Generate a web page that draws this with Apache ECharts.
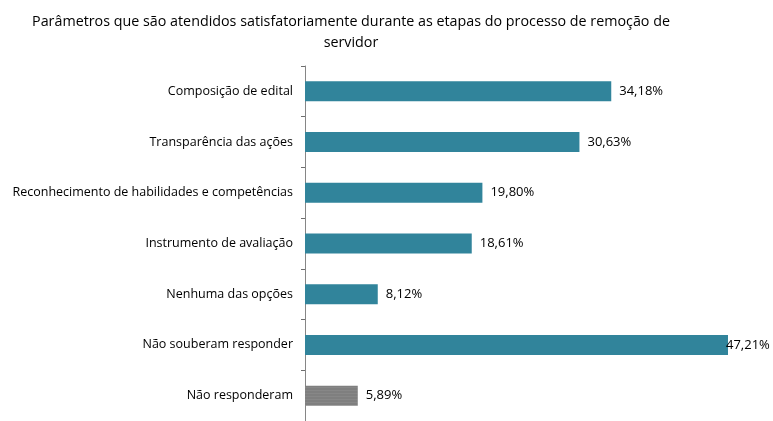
<!DOCTYPE html>
<html>
<head>
<meta charset="utf-8">
<script src="https://cdn.jsdelivr.net/npm/echarts@6/dist/echarts.min.js"></script>
<style>
  html, body { margin: 0; padding: 0; background: #fff; }
  #main { width: 773px; height: 421px; }
</style>
</head>
<body>
<div id="main"></div>
<script>
// categorias e valores (%)
var categorias = [
  'Composição de edital',
  'Transparência das ações',
  'Reconhecimento de habilidades e competências',
  'Instrumento de avaliação',
  'Nenhuma das opções',
  'Não souberam responder',
  'Não responderam'
];
var valores = [34.18, 30.63, 19.80, 18.61, 8.12, 47.21, 5.89];
var corBarra = '#31849b';
var corCinza = '#7f7f7f';

var fonte = '"Open Sans", "Noto Sans", sans-serif';

var dados = [];
for (var i = 0; i < valores.length; i++) {
  var item = { value: valores[i] };
  if (i == valores.length - 1) {
    // última barra cinza com textura
    item.itemStyle = {
      color: corCinza,
      decal: { symbol: 'rect', symbolSize: 0.6, dashArrayX: [1, 0], dashArrayY: [1, 2], rotation: 0, color: 'rgba(255,255,255,0.2)' }
    };
  }
  if (valores[i] > 45) {
    item.label = { distance: -2 }; // rótulo colado na barra maior
  }
  dados.push(item);
}

var myChart = echarts.init(document.getElementById('main'));
var option = {
  animation: false,
  title: {
    text: 'Parâmetros que são atendidos satisfatoriamente durante as etapas do processo de remoção de\nservidor',
    left: 346,
    top: 6,
    textAlign: 'center',
    textStyle: { fontFamily: fonte, fontSize: 14.3, fontWeight: 'normal', color: '#000', lineHeight: 21, align: 'center' }
  },
  grid: { left: 305, right: 20, top: 66, bottom: -3 },
  xAxis: {
    type: 'value',
    min: 0,
    max: 50,
    show: false
  },
  yAxis: {
    type: 'category',
    inverse: true,
    data: categorias,
    axisLine: { lineStyle: { color: '#868686', width: 1 } },
    axisTick: { show: true, length: 4, lineStyle: { color: '#6e6e6e' } },
    axisLabel: { fontFamily: fonte, fontSize: 12.5, color: '#000', margin: 12 }
  },
  series: [{
    type: 'bar',
    data: dados,
    barWidth: 20,
    itemStyle: { color: corBarra },
    label: {
      show: true,
      position: 'right',
      distance: 8,
      fontFamily: fonte,
      fontSize: 13,
      color: '#000',
      formatter: function (p) { return p.value.toFixed(2).replace('.', ',') + '%'; }
    }
  }]
};
myChart.setOption(option);
</script>
</body>
</html>
